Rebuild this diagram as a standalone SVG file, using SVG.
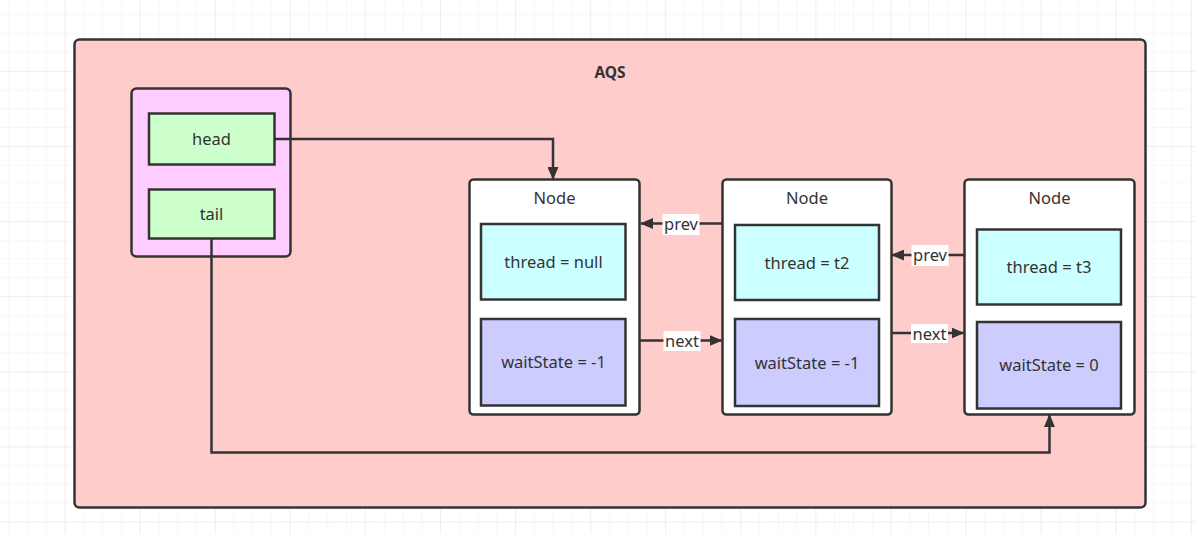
<svg xmlns="http://www.w3.org/2000/svg" width="1195" height="534" viewBox="0 0 1195 534">
<defs>
<pattern id="grid" x="8.3" y="14.5" width="18.77" height="18.77" patternUnits="userSpaceOnUse">
<path d="M0 0H18.77M0 0V18.77" fill="none" stroke="#efefef" stroke-width="1"/>
</pattern>
<pattern id="gridMajor" x="64.5" y="71" width="75.08" height="75.08" patternUnits="userSpaceOnUse">
<path d="M0 0H75.08M0 0V75.08" fill="none" stroke="#e6e6e6" stroke-width="1"/>
</pattern>
<marker id="arr" viewBox="0 0 13 11" refX="12" refY="5.5" markerWidth="13" markerHeight="11" orient="auto" markerUnits="userSpaceOnUse">
<path d="M0 0L13 5.5L0 11Z" fill="#333"/>
</marker>
</defs>
<style>
.box{stroke:#333;stroke-width:2.5}
.t{font-family:"Noto Sans","Open Sans",sans-serif;font-size:16.5px;fill:#333;text-anchor:middle;dominant-baseline:central}
.conn{fill:none;stroke:#333;stroke-width:2.5}
.lbl{fill:#fff}
</style>
<rect width="1195" height="534" fill="#fff"/>
<rect width="1195" height="534" fill="url(#grid)"/>
<rect width="1195" height="534" fill="url(#gridMajor)"/>

<g id="aqs">
<rect class="box" x="74.5" y="39.5" width="1071" height="468" rx="5" fill="#ffcccc"/>
<text class="t" x="610" y="72" style="font-weight:bold;font-size:15.5px">AQS</text>
</g>

<g id="holder">
<rect class="box" x="131.5" y="88.5" width="159" height="168" rx="5" fill="#ffccff"/>
</g>
<g id="head">
<rect class="box" x="149" y="113.5" width="125.5" height="51" fill="#ccffcc"/>
<text class="t" x="211.5" y="138">head</text>
</g>
<g id="tail">
<rect class="box" x="149" y="189.5" width="125.5" height="49" fill="#ccffcc"/>
<text class="t" x="211.5" y="213">tail</text>
</g>

<g id="node1">
<rect class="box" x="469.5" y="179.5" width="170" height="235" rx="4" fill="#fff"/>
<text class="t" x="554.5" y="197">Node</text>
<rect class="box" x="481" y="224" width="144.5" height="75.5" fill="#ccffff"/>
<text class="t" x="553.5" y="261">thread = null</text>
<rect class="box" x="481" y="319" width="144.5" height="86.5" fill="#ccccff"/>
<text class="t" x="553.5" y="361">waitState = -1</text>
</g>

<g id="node2">
<rect class="box" x="722.5" y="179.5" width="169" height="235" rx="4" fill="#fff"/>
<text class="t" x="807" y="197">Node</text>
<rect class="box" x="735" y="225" width="144" height="75" fill="#ccffff"/>
<text class="t" x="807" y="262">thread = t2</text>
<rect class="box" x="735" y="319" width="144" height="87" fill="#ccccff"/>
<text class="t" x="807" y="362">waitState = -1</text>
</g>

<g id="node3">
<rect class="box" x="964.5" y="179.5" width="170" height="235" rx="4" fill="#fff"/>
<text class="t" x="1049.5" y="197">Node</text>
<rect class="box" x="977" y="229.5" width="144" height="75" fill="#ccffff"/>
<text class="t" x="1049" y="266">thread = t3</text>
<rect class="box" x="977" y="322" width="144" height="86.5" fill="#ccccff"/>
<text class="t" x="1049" y="364">waitState = 0</text>
</g>

<g id="connectors">
<path class="conn" d="M274.5 139H553V179" marker-end="url(#arr)"/>
<path class="conn" d="M211.5 238.5V452.5H1049.5V415" marker-end="url(#arr)"/>
<path class="conn" d="M722 223.5H641" marker-end="url(#arr)"/>
<path class="conn" d="M640 340.5H721.5" marker-end="url(#arr)"/>
<path class="conn" d="M964 255H892" marker-end="url(#arr)"/>
<path class="conn" d="M891 333H963.5" marker-end="url(#arr)"/>
<rect class="lbl" x="662.5" y="214" width="37" height="21"/>
<text class="t" x="681" y="223.5">prev</text>
<rect class="lbl" x="663.5" y="331" width="37" height="20"/>
<text class="t" x="682" y="340">next</text>
<rect class="lbl" x="911.5" y="245" width="37" height="21"/>
<text class="t" x="930" y="254.5">prev</text>
<rect class="lbl" x="911" y="324" width="37" height="19"/>
<text class="t" x="929.5" y="333">next</text>
</g>
</svg>
